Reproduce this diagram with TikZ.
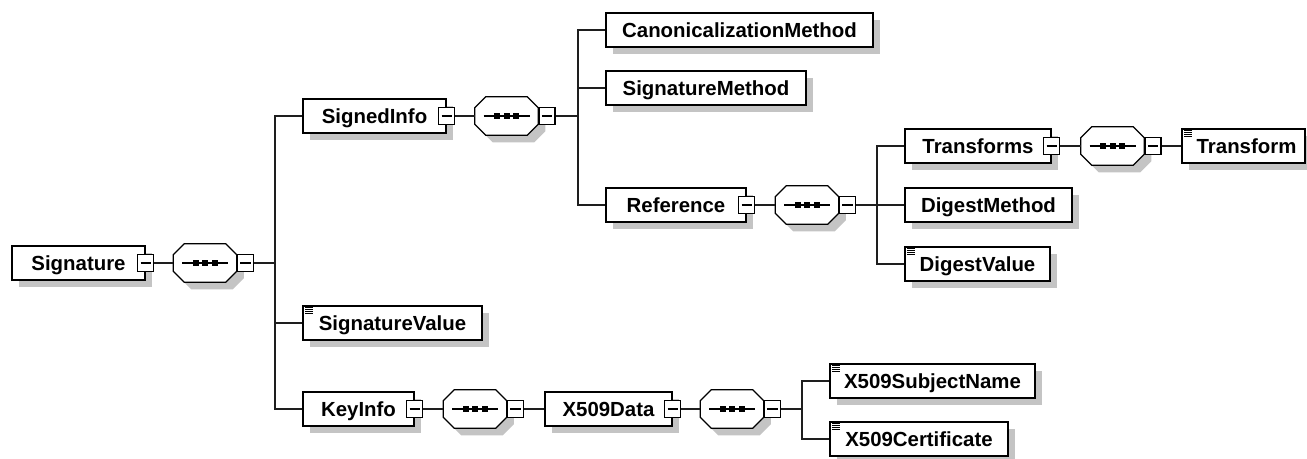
\documentclass[tikz,border=0pt]{standalone}
\usepackage{fontspec}
\setmainfont{Liberation Sans}
\usetikzlibrary{shadows}

\definecolor{shadowgrey}{HTML}{C4C4C4}
\definecolor{wire}{HTML}{1E1E1E}

% one unit = one pixel of the schema view
\newlength\px \setlength\px{0.75pt}

\tikzset{
  boxshadow/.style={general shadow={fill=shadowgrey, shadow xshift=7\px, shadow yshift=-7\px}},
  elem/.style={rectangle, draw=black, fill=white, line width=1pt, inner sep=0pt,
    minimum height=34\px, text height=10.9pt, text depth=0pt,
    font=\fontsize{15.3}{18}\selectfont\bfseries, boxshadow},
  seq/.style={rectangle, inner sep=0pt, minimum width=63\px, minimum height=38\px},
  fold/.style={rectangle, draw=black, fill=white, line width=1pt, inner sep=0pt,
    minimum width=16\px, minimum height=17\px},
  link/.style={draw=wire, line width=1pt},
}

% octagon outline of a compositor, built on the anchors of node #1
\newcommand\octpath[1]{%
  ([xshift=11\px]#1.north west) -- ([xshift=-11\px]#1.north east) --
  ([yshift=-11\px]#1.north east) -- ([yshift=11\px]#1.south east) --
  ([xshift=-11\px]#1.south east) -- ([xshift=11\px]#1.south west) --
  ([yshift=11\px]#1.south west) -- ([yshift=-11\px]#1.north west) -- cycle}
% a sequence compositor: shadow, octagon and the sequence glyph
\newcommand\seqbody[1]{%
  \fill[shadowgrey, transform canvas={xshift=7\px, yshift=-7\px}] \octpath{#1};
  \draw[fill=white, line width=1pt] \octpath{#1};
  \draw[line width=1pt] ([xshift=-23\px]#1.center) -- ([xshift=23\px]#1.center);
  \foreach \dx in {-12.5,-3,6.5}
    \fill ([xshift=\dx*0.75pt, yshift=3\px]#1.center) rectangle ++(6,6);}
% the "-" of a collapsible box
\newcommand\foldmark[1]{%
  \draw[line width=0.8pt] ([xshift=3.5\px]#1.west) -- ([xshift=-3.5\px]#1.east);}
% the simple-content marker in the top left corner of a box
\newcommand\contentmark[1]{%
  \foreach \k in {0,1,2,3}
    \draw[line width=0.55pt] ([xshift=3\px, yshift={-(2.5+2*\k)*0.75pt}]#1.north west) -- ++(8,0);}

\begin{document}
\begin{tikzpicture}[x=0.75pt, y=-0.75pt]
\useasboundingbox (0,0) rectangle (1307,458);

% ---- root ----
\node[elem, minimum width=133\px] (sig) at (78.5,263) {Signature};
\node[fold] (sigf) at (sig.east) {}; \foldmark{sigf}
\node[seq] (s1) at (205,263) {}; \seqbody{s1}
\node[fold, anchor=west] (s1f) at (s1.east) {}; \foldmark{s1f}

% ---- children of Signature ----
\node[elem, minimum width=143\px] (signedinfo) at (374.5,116) {SignedInfo};
\node[fold] (signedinfof) at (signedinfo.east) {}; \foldmark{signedinfof}
\node[elem, minimum width=179\px] (sigvalue) at (392.5,323) {SignatureValue}; \contentmark{sigvalue}
\node[elem, minimum width=111\px] (keyinfo) at (358.5,409) {KeyInfo};
\node[fold] (keyinfof) at (keyinfo.east) {}; \foldmark{keyinfof}

% ---- SignedInfo ----
\node[seq] (s2) at (506.5,116) {}; \seqbody{s2}
\node[fold, anchor=west] (s2f) at (s2.east) {}; \foldmark{s2f}
\node[elem, minimum width=267\px] (canon) at (739.5,30) {CanonicalizationMethod};
\node[elem, minimum width=200\px] (sigmethod) at (706,88) {SignatureMethod};
\node[elem, minimum width=140\px] (reference) at (676,205) {Reference};
\node[fold] (referencef) at (reference.east) {}; \foldmark{referencef}

% ---- Reference ----
\node[seq] (s3) at (807,205) {}; \seqbody{s3}
\node[fold, anchor=west] (s3f) at (s3.east) {}; \foldmark{s3f}
\node[elem, minimum width=146\px] (transforms) at (978,146) {Transforms};
\node[fold] (transformsf) at (transforms.east) {}; \foldmark{transformsf}
\node[elem, minimum width=167\px] (digestmethod) at (988.5,205) {DigestMethod};
\node[elem, minimum width=145\px] (digestvalue) at (977.5,264) {DigestValue}; \contentmark{digestvalue}

% ---- Transforms ----
\node[seq] (s4) at (1112.5,146) {}; \seqbody{s4}
\node[fold, anchor=west] (s4f) at (s4.east) {}; \foldmark{s4f}
\node[elem, minimum width=123\px] (transform) at (1243.5,146) {\hspace{6\px}Transform}; \contentmark{transform}

% ---- KeyInfo ----
\node[seq] (s5) at (475,409) {}; \seqbody{s5}
\node[fold, anchor=west] (s5f) at (s5.east) {}; \foldmark{s5f}
\node[elem, minimum width=127\px] (x509data) at (608.5,409) {X509Data};
\node[fold] (x509dataf) at (x509data.east) {}; \foldmark{x509dataf}
\node[seq] (s6) at (732,409) {}; \seqbody{s6}
\node[fold, anchor=west] (s6f) at (s6.east) {}; \foldmark{s6f}
\node[elem, minimum width=205\px] (subjname) at (932.5,381) {X509SubjectName}; \contentmark{subjname}
\node[elem, minimum width=178\px] (cert) at (919,439) {X509Certificate}; \contentmark{cert}

% ---- bus points ----
\coordinate (bus1) at (275,263);
\coordinate (bus2) at (578,116);
\coordinate (bus3) at (877,205);
\coordinate (bus4) at (802,409);

% ---- connectors ----
\draw[link] (sigf.east) -- (s1.west);
\draw[link] (s1f.east) -- (bus1);
\draw[link] (bus1) |- (signedinfo.west);
\draw[link] (bus1) |- (sigvalue.west);
\draw[link] (bus1) |- (keyinfo.west);

\draw[link] (signedinfof.east) -- (s2.west);
\draw[link] (s2f.east) -- (bus2);
\draw[link] (bus2) |- (canon.west);
\draw[link] (bus2) |- (sigmethod.west);
\draw[link] (bus2) |- (reference.west);

\draw[link] (referencef.east) -- (s3.west);
\draw[link] (s3f.east) -- (bus3);
\draw[link] (bus3) |- (transforms.west);
\draw[link] (bus3) |- (digestmethod.west);
\draw[link] (bus3) |- (digestvalue.west);

\draw[link] (transformsf.east) -- (s4.west);
\draw[link] (s4f.east) -- (transform.west);

\draw[link] (keyinfof.east) -- (s5.west);
\draw[link] (s5f.east) -- (x509data.west);
\draw[link] (x509dataf.east) -- (s6.west);
\draw[link] (s6f.east) -- (bus4);
\draw[link] (bus4) |- (subjname.west);
\draw[link] (bus4) |- (cert.west);
\end{tikzpicture}
\end{document}
